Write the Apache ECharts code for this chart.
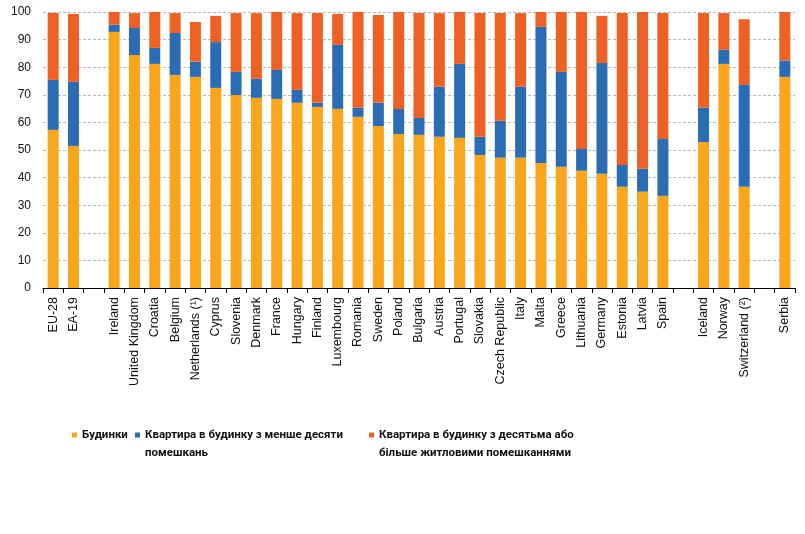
<!DOCTYPE html>
<html>
<head>
<meta charset="utf-8">
<script src="https://cdn.jsdelivr.net/npm/echarts@6/dist/echarts.min.js"></script>
<style>html,body{margin:0;padding:0;background:#fff}#c{width:805px;height:534px}</style>
</head>
<body>
<div id="c"></div>
<script>
const categories = ['EU-28','EA-19','','Ireland','United Kingdom','Croatia','Belgium','Netherlands (\u00b9)','Cyprus','Slovenia','Denmark','France','Hungary','Finland','Luxembourg','Romania','Sweden','Poland','Bulgaria','Austria','Portugal','Slovakia','Czech Republic','Italy','Malta','Greece','Lithuania','Germany','Estonia','Latvia','Spain','','Iceland','Norway','Switzerland (\u00b2)','','Serbia'];
// cumulative tops
const housesTop =  [57.3,51.5,null,92.8,84.4,81.2,77.2,76.5,72.5,69.9,68.9,68.5,67.1,65.6,64.9,62.0,58.7,55.8,55.5,54.8,54.4,48.2,47.2,47.2,45.3,43.9,42.5,41.4,36.7,34.9,33.4,null,52.9,81.2,36.7,null,76.5];
const smallTop =   [75.4,74.7,null,95.4,94.2,87.0,92.4,82.0,89.1,78.3,75.8,79.0,71.8,67.1,88.1,65.3,67.1,64.9,61.6,72.9,81.2,54.8,60.6,72.9,94.6,78.3,50.4,81.5,44.6,43.2,54.0,null,65.3,86.3,73.6,null,82.4];
const totalTop =   [99.7,99.3,null,100,99.6,100,99.6,96.4,98.6,99.6,99.6,100,99.6,99.6,99.3,100,98.9,100,99.6,99.6,100,99.6,99.6,99.6,100,100,100,98.6,99.6,100,99.6,null,99.6,99.6,97.4,null,100];
const yTicks = [0,10,20,30,40,50,60,70,80,90,100];
const seriesNames = ['Будинки','Квартира в будинку з менше десяти помешкань','Квартира в будинку з десятьма або більше житловими помешканнями'];
const legendText = ['Будинки',' \nКвартира в будинку з менше десяти\nпомешкань',' \nКвартира в будинку з десятьма або\nбільше житловими помешканнями'];

const r1 = v => v == null ? '-' : +v.toFixed(1);
const houses = housesTop.map(r1);
const small = smallTop.map((v,i) => v == null ? '-' : +(v - housesTop[i]).toFixed(1));
const large = totalTop.map((v,i) => v == null ? '-' : +(v - smallTop[i]).toFixed(1));

const colors = ['#F9A61C','#2B6DB5','#EE6124'];
const legFont = {fontFamily:'Roboto,"Noto Sans",sans-serif',fontWeight:'bold',fontSize:11.5,color:'#111',lineHeight:18};
const fmt = n => legendText[seriesNames.indexOf(n)];
const legBase = {itemWidth:5,itemHeight:5,icon:'rect',formatter:fmt,textStyle:legFont,selectedMode:false,padding:0};

const chart = echarts.init(document.getElementById('c'));
chart.setOption({
  animation:false,
  color: colors,
  grid:{left:43,right:10,top:12,bottom:246,containLabel:false},
  legend:[
    Object.assign({data:[seriesNames[0]],left:72,top:426},legBase),
    Object.assign({data:[seriesNames[1]],left:135,top:408},legBase),
    Object.assign({data:[seriesNames[2]],left:369,top:408},legBase)
  ],
  xAxis:{type:'category',data:categories,boundaryGap:true,
    axisLine:{lineStyle:{color:'#000',width:1}},
    axisTick:{show:true,alignWithLabel:false,length:5,lineStyle:{color:'#000'},interval:0},
    axisLabel:{interval:0,rotate:90,margin:9,fontSize:12.5,color:'#111',fontFamily:'"Liberation Sans",Arial,sans-serif'}
  },
  yAxis:{type:'value',min:0,max:100,interval:10,
    axisLine:{show:false},axisTick:{show:false},
    splitLine:{lineStyle:{color:'#b8b8b8',type:[3,2],width:1}},
    axisLabel:{margin:12,fontSize:12,color:'#111',fontFamily:'"Liberation Sans",Arial,sans-serif',
      formatter:v => yTicks.includes(v) ? String(v) : ''}
  },
  series:[
    {name:seriesNames[0],type:'bar',stack:'a',barWidth:11,data:houses},
    {name:seriesNames[1],type:'bar',stack:'a',barWidth:11,data:small},
    {name:seriesNames[2],type:'bar',stack:'a',barWidth:11,data:large}
  ]
});
</script>
</body>
</html>
